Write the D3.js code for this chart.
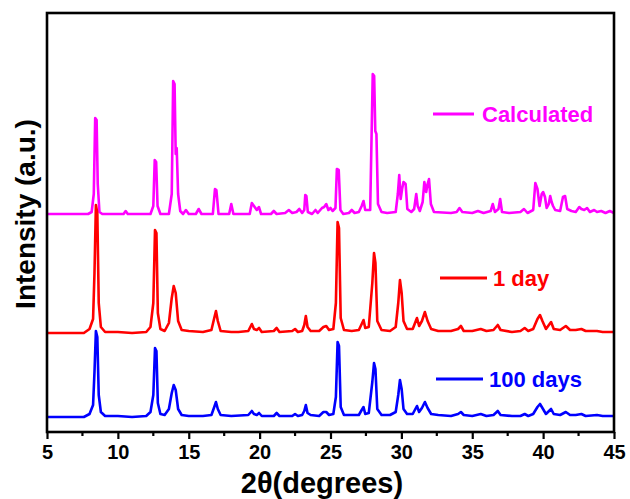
<!DOCTYPE html>
<html>
<head>
<meta charset="utf-8">
<script src="https://cdn.jsdelivr.net/npm/d3@7"></script>
<style>
  html, body { margin: 0; padding: 0; background: #fff; }
  svg { display: block; }
  text { font-family: "Liberation Sans", Arial, sans-serif; font-weight: bold; }
</style>
</head>
<body>
<svg id="chart" width="630" height="499"></svg>
<script>
// ---- data: [2theta, intensity above own baseline] ----
const xTicks = [5, 10, 15, 20, 25, 30, 35, 40, 45];
const seriesNames = ["Calculated", "1 day", "100 days"];
const seriesColors = ["#ff00ff", "#ff0000", "#0000ff"];
const seriesOffsets = [218, 99, 15];

const calculated = [
[5,0],[7.9,0],[8.15,2],[8.3,20],[8.4,96],[8.5,94],[8.58,30],[8.7,2],[8.9,0],
[10.4,0],[10.55,3],[10.7,0],
[12.3,0],[12.5,8],[12.6,54],[12.7,52],[12.8,8],[13.0,0],
[13.6,0],[13.8,20],[13.9,133],[14.0,130],[14.08,60],[14.15,66],[14.25,20],[14.4,3],[14.6,0],[14.8,4],[15.0,0],[15.5,0],[15.7,5],[15.9,0],
[16.7,0],[16.85,25],[16.95,24],[17.1,0],
[17.85,0],[18.0,10],[18.15,0],
[19.3,0],[19.45,11],[19.6,8],[19.8,4],[19.95,7],[20.1,0],
[20.8,0],[21.0,3],[21.2,0],[21.8,1],[22.06,4],[22.3,1],[22.6,2],[22.8,5],[23.0,1],[23.15,4],[23.22,19],[23.3,18],[23.4,2],[23.7,0],[23.94,4],[24.1,1],[24.4,6],[24.55,7],[24.7,10],[24.85,4],[25.0,6],[25.15,3],[25.35,6],[25.45,45],[25.58,44],[25.7,4],[25.9,0],[26.3,1],[26.5,4],[26.7,1],[27.0,2],[27.2,8],[27.33,13],[27.45,4],[27.8,4],[27.98,140],[28.08,138],[28.16,83],[28.24,80],[28.35,10],[28.6,2],[29.0,1],[29.6,2],[29.75,20],[29.85,39],[29.95,15],[30.05,25],[30.15,32],[30.3,30],[30.42,5],[30.7,2],[30.9,5],[31.05,20],[31.15,8],[31.3,3],[31.5,12],[31.62,32],[31.75,22],[31.85,30],[31.95,35],[32.08,10],[32.3,2],[33.5,1],[33.9,2],[34.1,6],[34.3,2],[35,1],[35.4,3],[35.8,1],[36.3,3],[36.45,10],[36.6,2],[36.85,5],[36.97,15],[37.1,2],[37.6,1],[38.4,2],[38.65,5],[38.9,1],[39.3,4],[39.45,31],[39.6,25],[39.75,8],[39.9,20],[40.0,22],[40.13,17],[40.25,6],[40.4,10],[40.5,18],[40.6,12],[40.7,8],[40.85,4],[41.2,3],[41.4,17],[41.55,18],[41.7,5],[42.0,3],[42.3,2],[42.55,7],[42.7,5],[42.9,4],[43.1,6],[43.3,2],[43.6,4],[43.8,2],[44.1,3],[44.4,1],[44.7,3],[45,1]
];

const day1 = [
[5,0],[7.6,0],[8.0,4],[8.25,14],[8.35,60],[8.45,128],[8.55,120],[8.65,30],[8.8,6],[9.1,1],[10.0,1],[11.0,0],[12.0,1],[12.3,6],[12.5,30],[12.62,103],[12.72,100],[12.82,20],[13.0,4],[13.3,2],[13.6,10],[13.8,35],[13.94,47],[14.08,40],[14.25,12],[14.5,3],[15,2],[16,1],[16.6,3],[16.8,15],[16.92,22],[17.05,12],[17.25,2],[18,1],[18.5,1],[19.2,2],[19.45,9],[19.6,4],[19.8,3],[19.96,5],[20.15,1],[21.0,2],[21.2,5],[21.4,1],[22.3,2],[22.5,4],[22.7,1],[23.0,2],[23.15,8],[23.26,17],[23.38,6],[23.6,2],[24.2,2],[24.5,6],[24.7,7],[24.9,3],[25.2,4],[25.38,30],[25.5,111],[25.6,105],[25.72,15],[25.95,3],[26.5,2],[27.0,3],[27.2,9],[27.33,13],[27.45,5],[27.7,6],[27.95,50],[28.07,80],[28.17,70],[28.3,12],[28.6,3],[29.2,2],[29.6,6],[29.78,30],[29.9,53],[30.02,40],[30.15,12],[30.4,4],[30.8,4],[31.1,15],[31.25,7],[31.45,12],[31.66,21],[31.85,12],[32.1,4],[32.6,2],[33.5,2],[34.0,4],[34.2,7],[34.4,2],[35.0,2],[35.6,4],[36.0,2],[36.5,3],[36.8,8],[37.0,3],[37.8,1],[38.4,2],[38.7,5],[38.95,2],[39.3,4],[39.6,14],[39.78,18],[39.95,12],[40.2,4],[40.56,11],[40.75,4],[41.2,3],[41.6,7],[41.9,3],[42.3,3],[42.7,4],[43.0,2],[43.8,2],[44.2,1],[45,1]
];

const days100 = [
[5,0],[7.6,0],[8.0,3],[8.25,12],[8.35,45],[8.45,86],[8.55,80],[8.65,22],[8.8,5],[9.1,1],[10,1],[11,0],[12,1],[12.3,5],[12.5,22],[12.62,69],[12.72,66],[12.82,14],[13.0,3],[13.3,2],[13.6,8],[13.8,24],[13.94,32],[14.08,27],[14.25,8],[14.5,2],[15,1],[16,1],[16.6,2],[16.8,10],[16.92,15],[17.05,8],[17.25,2],[18,1],[19.2,2],[19.45,6],[19.6,3],[19.8,2],[19.96,4],[20.15,1],[21,1],[21.2,4],[21.4,1],[22.3,1],[22.5,3],[22.7,1],[23,2],[23.15,6],[23.26,12],[23.38,4],[23.6,2],[24.2,1],[24.5,5],[24.7,5],[24.9,2],[25.2,3],[25.38,20],[25.5,75],[25.6,71],[25.72,10],[25.95,2],[26.5,2],[27.0,2],[27.2,7],[27.33,10],[27.45,3],[27.7,4],[27.95,35],[28.07,54],[28.17,48],[28.3,8],[28.6,2],[29.2,2],[29.6,5],[29.78,22],[29.9,37],[30.02,28],[30.15,8],[30.4,3],[30.8,3],[31.1,11],[31.25,5],[31.45,9],[31.66,15],[31.85,9],[32.1,3],[32.6,2],[33.5,1],[34.0,3],[34.2,5],[34.4,2],[35,1],[35.6,3],[36,1],[36.5,2],[36.8,6],[37.0,2],[37.8,1],[38.4,1],[38.7,3],[38.95,1],[39.3,3],[39.6,10],[39.78,13],[39.95,9],[40.2,3],[40.56,8],[40.75,3],[41.2,2],[41.6,5],[41.9,2],[42.3,2],[42.7,3],[43,1],[43.8,2],[44.2,1],[45,1]
];

const seriesData = [calculated, day1, days100];

// ---- layout ----
const M = { left: 47, right: 614, top: 13, bottom: 432 };
const svg = d3.select("#chart");

const x = d3.scaleLinear().domain([5, 45]).range([M.left, M.right]);
const y = d3.scaleLinear().domain([0, 419]).range([M.bottom, M.top]);

// series
seriesData.forEach((data, i) => {
  const off = seriesOffsets[i];
  const line = d3.line()
    .x(d => x(d[0]))
    .y(d => y(d[1] + off));
  svg.append("path")
    .datum(data)
    .attr("d", line)
    .attr("fill", "none")
    .attr("stroke", seriesColors[i])
    .attr("stroke-width", 2.6)
    .attr("stroke-linejoin", "round");
});

// x axis (major + minor ticks)
const minorTicks = d3.range(7.5, 45, 5);
const gx = svg.append("g").attr("transform", `translate(0,${M.bottom})`);
gx.call(d3.axisBottom(x).tickValues(xTicks).tickSize(7).tickSizeOuter(0).tickPadding(6).tickFormat(d3.format("d")));
gx.select(".domain").remove();
gx.selectAll(".tick line").attr("stroke", "#000").attr("stroke-width", 2.2);
gx.selectAll(".tick text").attr("font-size", 20).attr("fill", "#000")
  .attr("font-family", "Liberation Sans, Arial, sans-serif").attr("font-weight", "bold");
gx.selectAll(".minor").data(minorTicks).enter().append("line")
  .attr("x1", d => x(d)).attr("x2", d => x(d))
  .attr("y1", 0).attr("y2", 4)
  .attr("stroke", "#000").attr("stroke-width", 2.2);

// frame
svg.append("rect")
  .attr("x", M.left).attr("y", M.top)
  .attr("width", M.right - M.left).attr("height", M.bottom - M.top)
  .attr("fill", "none").attr("stroke", "#000").attr("stroke-width", 2.6);

// axis titles
svg.append("text")
  .attr("x", 322).attr("y", 493)
  .attr("text-anchor", "middle")
  .attr("font-size", 29)
  .attr("fill", "#000")
  .text("2θ(degrees)");

svg.append("text")
  .attr("transform", "translate(35,214) rotate(-90)")
  .attr("text-anchor", "middle")
  .attr("font-size", 28)
  .attr("fill", "#000")
  .text("Intensity (a.u.)");

// legends
const legendPos = [
  { x1: 433, x2: 474, ly: 114, tx: 482 },
  { x1: 440, x2: 487, ly: 278, tx: 493 },
  { x1: 436, x2: 483, ly: 379, tx: 489 }
];
legendPos.forEach((p, i) => {
  svg.append("line")
    .attr("x1", p.x1).attr("x2", p.x2).attr("y1", p.ly).attr("y2", p.ly)
    .attr("stroke", seriesColors[i]).attr("stroke-width", 3);
  svg.append("text")
    .attr("x", p.tx).attr("y", p.ly + 8)
    .attr("font-size", 22)
    .attr("fill", seriesColors[i])
    .text(seriesNames[i]);
});
</script>
</body>
</html>
